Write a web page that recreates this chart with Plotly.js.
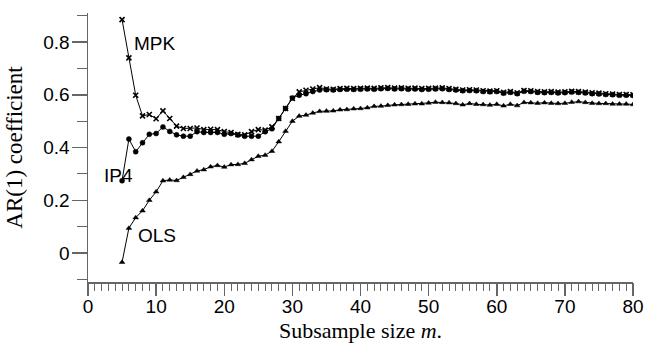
<!DOCTYPE html>
<html>
<head>
<meta charset="utf-8">
<script src="https://cdn.plot.ly/plotly-3.0.1.min.js"></script>
<style>html,body{margin:0;padding:0;background:#fff}#chart{width:647px;height:343px}</style>
</head>
<body>
<div id="chart"></div>
<script>
var m = [];
for (var i = 5; i <= 80; i++) m.push(i);

var mpk = [0.885,0.740,0.598,0.520,0.525,0.509,0.539,0.510,0.481,0.472,0.472,0.474,0.468,0.469,0.468,0.460,0.457,0.450,0.448,0.460,0.468,0.466,0.478,0.510,0.548,0.586,0.611,0.617,0.622,0.627,
0.622,0.621,0.623,0.624,0.623,0.624,0.625,0.624,0.626,0.627,0.625,0.626,0.624,0.625,0.623,0.624,0.625,0.626,0.623,0.621,0.618,0.619,0.618,0.615,0.614,0.615,0.609,0.612,0.607,0.616,0.615,0.612,0.611,0.612,0.610,0.611,0.613,0.612,0.610,0.607,0.606,0.604,0.603,0.601,0.601,0.600];

var ip4 = [0.274,0.432,0.384,0.418,0.450,0.453,0.478,0.461,0.448,0.443,0.443,0.460,0.457,0.457,0.457,0.450,0.453,0.447,0.443,0.443,0.443,0.460,0.471,0.510,0.548,0.588,0.598,0.604,0.612,0.618,
0.619,0.618,0.620,0.621,0.620,0.621,0.622,0.621,0.623,0.624,0.622,0.623,0.621,0.622,0.620,0.621,0.622,0.623,0.620,0.618,0.615,0.616,0.615,0.612,0.611,0.612,0.606,0.609,0.604,0.613,0.612,0.609,0.608,0.609,0.607,0.608,0.610,0.609,0.607,0.604,0.603,0.601,0.600,0.598,0.598,0.597];

var ols = [-0.035,0.094,0.134,0.160,0.200,0.232,0.274,0.277,0.275,0.287,0.298,0.311,0.316,0.327,0.332,0.326,0.335,0.336,0.340,0.354,0.367,0.371,0.386,0.422,0.462,0.500,0.519,0.523,0.531,0.537,
0.538,0.539,0.543,0.544,0.547,0.548,0.551,0.556,0.557,0.560,0.562,0.563,0.564,0.566,0.566,0.569,0.572,0.571,0.570,0.567,0.562,0.567,0.564,0.563,0.561,0.564,0.558,0.564,0.559,0.571,0.570,0.568,0.570,0.568,0.567,0.568,0.572,0.574,0.571,0.568,0.567,0.567,0.565,0.565,0.565,0.563];

var seriesNames = ["MPK", "IP4", "OLS"];
var xTickVals = [0,10,20,30,40,50,60,70,80];
var yTickVals = [0,0.2,0.4,0.6,0.8];
var yTickText = ["0","0.2","0.4","0.6","0.8"];

function tr(y, name, sym, size, lw) {
  return {x: m, y: y, name: name, type: "scatter", mode: "lines+markers",
    line: {color: "#000", width: 1},
    marker: {symbol: sym, size: size, color: "#000", line: {color: "#000", width: lw}}};
}

var data = [
  tr(ols, seriesNames[2], "triangle-up", 5, 0.5),
  tr(ip4, seriesNames[1], "circle", 5, 0.5),
  tr(mpk, seriesNames[0], "x-thin", 5, 1.6),
  // invisible helper trace so the long major-tick axis is drawn
  {x: m, y: ols, xaxis: "x2", type: "scatter", mode: "none", hoverinfo: "skip", showlegend: false}
];

var axisColor = "#666";
var layout = {
  width: 647, height: 343,
  margin: {l: 88, r: 14, t: 13, b: 61},
  paper_bgcolor: "#fff", plot_bgcolor: "#fff",
  showlegend: false,
  font: {family: "Liberation Sans, Arial, sans-serif", color: "#000", size: 18},
  xaxis: {
    range: [0, 80], tickvals: xTickVals, showgrid: false, zeroline: false,
    showline: true, linecolor: axisColor, linewidth: 1.5,
    ticks: "outside", ticklen: 7, tickwidth: 1, tickcolor: axisColor,
    minor: {dtick: 1, ticks: "outside", ticklen: 7, tickwidth: 1, tickcolor: axisColor, showgrid: false},
    tickfont: {size: 19},
    title: {text: "Subsample size <i>m</i>.", font: {family: "Liberation Serif, Times New Roman, serif", size: 22}, standoff: 9}
  },
  xaxis2: {
    overlaying: "x", anchor: "y", side: "bottom", matches: "x",
    range: [0, 80], tickvals: xTickVals, showgrid: false, zeroline: false, showline: false,
    showticklabels: false, ticks: "outside", ticklen: 13, tickwidth: 1.5, tickcolor: axisColor
  },
  yaxis: {
    range: [-0.11, 0.91], tickvals: yTickVals, ticktext: yTickText, showgrid: false, zeroline: false,
    showline: true, linecolor: axisColor, linewidth: 1.5,
    ticks: "outside", ticklen: 15, tickwidth: 1.5, tickcolor: axisColor,
    ticklabelstandoff: -2,
    minor: {dtick: 0.1, tick0: 0, ticks: "outside", ticklen: 10, tickwidth: 1, tickcolor: axisColor, showgrid: false},
    tickfont: {size: 19},
    title: {text: "AR(1) coefficient", font: {family: "Liberation Serif, Times New Roman, serif", size: 23}, standoff: 14}
  },
  annotations: [
    {x: 6.5, y: 0.795, xref: "x", yref: "y", text: seriesNames[0], showarrow: false, xanchor: "left", yanchor: "middle", font: {size: 19}},
    {x: 2.0, y: 0.295, xref: "x", yref: "y", text: seriesNames[1], showarrow: false, xanchor: "left", yanchor: "middle", font: {size: 19}},
    {x: 7.0, y: 0.068, xref: "x", yref: "y", text: seriesNames[2], showarrow: false, xanchor: "left", yanchor: "middle", font: {size: 19}}
  ]
};

Plotly.newPlot("chart", data, layout, {displayModeBar: false, staticPlot: true});
</script>
</body>
</html>
